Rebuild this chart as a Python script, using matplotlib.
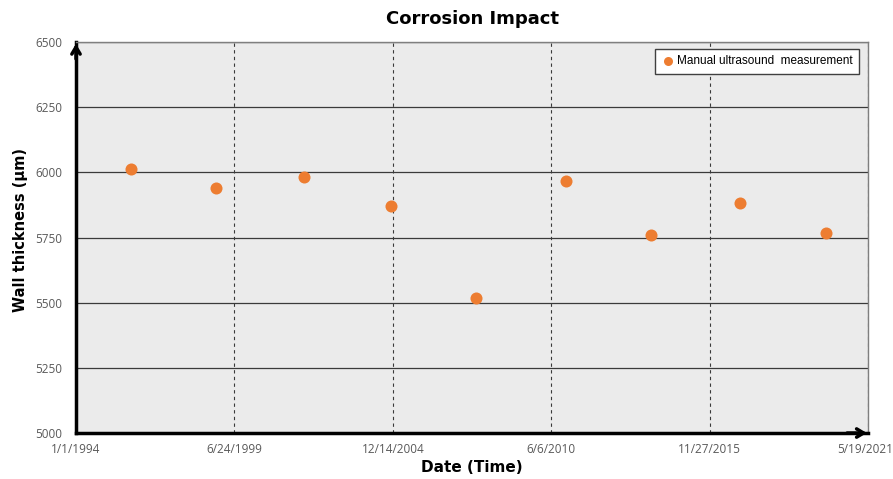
import numpy as np
import pandas as pd
import matplotlib
matplotlib.use("Agg")
import matplotlib.pyplot as plt
import matplotlib.transforms as mtransforms

# measurement dates and wall thickness (µm)
dates = pd.to_datetime(['1995-11-27', '1998-10-31', '2001-11-15', '2004-11-17', '2007-11-05',
                        '2010-12-10', '2013-11-16', '2016-12-10', '2019-12-01'])
thickness = [6015, 5941, 5983, 5872, 5519, 5967, 5760, 5881, 5769]

x_start = pd.Timestamp('1994-01-01')
x_step_days = 2000
x_ticks = [x_start + pd.Timedelta(days=x_step_days * i) for i in range(6)]
y_ticks = [5000, 5250, 5500, 5750, 6000, 6250, 6500]

tick_color = '#595959'
orange = '#ED7D31'

fig = plt.figure(figsize=(8.93, 4.79), dpi=100)
ax = fig.add_axes([0.0851, 0.096, 0.887, 0.816])
ax.set_facecolor('#ebebeb')

ax.scatter(dates, thickness, s=75, color=orange, zorder=3, linewidths=0,
           label='Manual ultrasound  measurement')

ax.set_xlim(x_ticks[0], x_ticks[-1])
ax.set_ylim(5000, 6500)
ax.set_xticks(x_ticks)
ax.set_xticklabels([f"{d.month}/{d.day}/{d.year}" for d in x_ticks])
ax.set_yticks(y_ticks)

# gridlines: solid horizontal, dashed vertical
ax.yaxis.grid(True, color='#3a3a3a', linewidth=0.9, linestyle='-')
ax.xaxis.grid(True, color='#3a3a3a', linewidth=0.8, linestyle=(0, (3, 3)))
ax.set_axisbelow(True)

ax.tick_params(axis='both', length=0, labelsize=8.5, labelcolor=tick_color)
ax.tick_params(axis='x', pad=7)
ax.tick_params(axis='y', pad=10)
for lbl in ax.get_xticklabels() + ax.get_yticklabels():
    lbl.set_family('Open Sans')
# keep the last date label inside the figure edge
last = ax.get_xticklabels()[-1]
last.set_transform(last.get_transform() + mtransforms.ScaledTranslation(-3 / 100, 0, fig.dpi_scale_trans))

for side in ['top', 'right']:
    ax.spines[side].set_color('#7f7f7f')
    ax.spines[side].set_linewidth(1.0)
for side in ['left', 'bottom']:
    ax.spines[side].set_color('black')
    ax.spines[side].set_linewidth(2.5)

# open arrow heads on left and bottom axes
ax.annotate('', xy=(0, 1.003), xycoords='axes fraction', xytext=(0, 0.95),
            arrowprops=dict(arrowstyle='->,head_length=0.5,head_width=0.3', color='black', lw=2.5),
            annotation_clip=False)
ax.annotate('', xy=(1.002, 0), xycoords='axes fraction', xytext=(0.97, 0),
            arrowprops=dict(arrowstyle='->,head_length=0.5,head_width=0.3', color='black', lw=2.5),
            annotation_clip=False)

ax.set_title('Corrosion Impact', fontsize=13, fontweight='heavy', family='DejaVu Sans', pad=13)
ax.set_xlabel('Date (Time)', fontsize=11, fontweight='bold', family='DejaVu Sans')
ax.xaxis.set_label_coords(0.5, -0.07)
ax.set_ylabel('Wall thickness (µm)', fontsize=10.5, fontweight='bold', family='DejaVu Sans')
ax.yaxis.set_label_coords(-0.06, 0.52)

leg = ax.legend(loc='upper right', bbox_to_anchor=(0.9955, 0.9985), frameon=True, fancybox=False,
                handletextpad=0.2, borderpad=0.55, handlelength=1.1, markerscale=0.75,
                prop={'family': 'Liberation Sans', 'size': 8.5})
leg.get_frame().set_edgecolor('#404040')
leg.get_frame().set_linewidth(1.0)
leg.get_frame().set_facecolor('white')
leg.get_frame().set_alpha(1.0)

fig.savefig('out.png', dpi=100)
